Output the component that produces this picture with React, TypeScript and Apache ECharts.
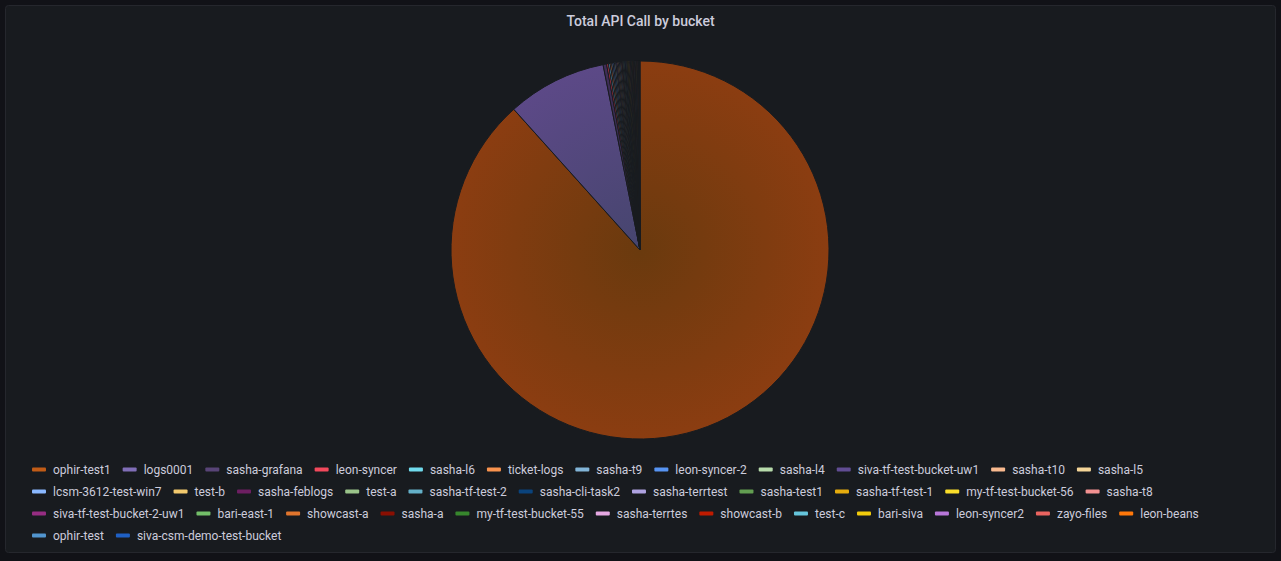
import React, { useEffect, useRef } from "react";
import * as echarts from "echarts";

const titleText = "Total API Call by bucket";

const buckets = [
  "ophir-test1", "logs0001", "sasha-grafana", "leon-syncer", "sasha-l6", "ticket-logs", "sasha-t9",
  "leon-syncer-2", "sasha-l4", "siva-tf-test-bucket-uw1", "sasha-t10", "sasha-l5",
  "lcsm-3612-test-win7", "test-b", "sasha-feblogs", "test-a", "sasha-tf-test-2", "sasha-cli-task2",
  "sasha-terrtest", "sasha-test1", "sasha-tf-test-1", "my-tf-test-bucket-56", "sasha-t8",
  "siva-tf-test-bucket-2-uw1", "bari-east-1", "showcast-a", "sasha-a", "my-tf-test-bucket-55",
  "sasha-terrtes", "showcast-b", "test-c", "bari-siva", "leon-syncer2", "zayo-files", "leon-beans",
  "ophir-test", "siva-csm-demo-test-bucket",
];

const apiCalls = [
  8830, 850, 30, 16, 14, 13, 12,
  12, 11, 11, 10, 10,
  10, 9, 9, 9, 9, 8,
  8, 8, 8, 8, 7,
  7, 7, 7, 7, 6,
  6, 6, 6, 6, 5, 5, 5,
  4, 4,
];

const colors = [
  "#C15C17", "#806EB7", "#584477", "#F2495C", "#70DBED", "#F9934E", "#82B5D8",
  "#5794F2", "#B7DBAB", "#614D93", "#F9BA8F", "#F4D598",
  "#8AB8FF", "#F2C96D", "#6D1F62", "#9AC48A", "#64B0C8", "#0A437C",
  "#AEA2E0", "#629E51", "#E5AC0E", "#FADE2A", "#F29191",
  "#962D82", "#73BF69", "#E0752D", "#890F02", "#37872D",
  "#E5A8E2", "#BF1B00", "#65C5DB", "#F2CC0C", "#B877D9", "#EA6460", "#FF780A",
  "#5195CE", "#1F60C4",
];

function scale(hex: string, f: number[]) {
  const n = parseInt(hex.slice(1), 16);
  const r = Math.min(255, Math.round(((n >> 16) & 255) * f[0]));
  const g = Math.min(255, Math.round(((n >> 8) & 255) * f[1]));
  const b = Math.min(255, Math.round((n & 255) * f[2]));
  return `rgb(${r},${g},${b})`;
}

export default function App() {
  const ref = useRef<HTMLDivElement>(null);
  useEffect(() => {
    if (!ref.current) return;
    const chart = echarts.init(ref.current, undefined, { renderer: "svg" });
    const cx = 640;
    const cy = 250;
    const R = 189;
    const data = buckets.map((name, i) => ({
      name,
      value: apiCalls[i],
      itemStyle: {
        color: {
          type: "radial",
          x: cx,
          y: cy,
          r: R,
          global: true,
          colorStops: [
            { offset: 0, color: scale(colors[i], [0.55, 0.63, 0.6]) },
            { offset: 1, color: scale(colors[i], [0.72, 0.66, 0.74]) },
          ],
        },
      },
    }));
    chart.setOption({
      animation: false,
      backgroundColor: "#111217",
      graphic: [
        {
          type: "rect",
          z: -10,
          silent: true,
          shape: { x: 5.5, y: 5.5, width: 1270, height: 547, r: 3 },
          style: { fill: "#181b1f", stroke: "#25272d", lineWidth: 1 },
        },
      ],
      title: {
        text: titleText,
        left: "center",
        top: 9,
        textStyle: {
          color: "#ccccdc",
          fontSize: 14,
          fontWeight: 500,
          fontFamily: "Roboto, Inter, sans-serif",
        },
      },
      legend: {
        type: "plain",
        orient: "horizontal",
        left: 27,
        top: 458,
        width: 1232,
        icon: "roundRect",
        itemWidth: 14,
        itemHeight: 4,
        itemGap: 9,
        itemStyle: { borderWidth: 0 },
        textStyle: {
          color: "#ccccdc",
          fontSize: 12,
          fontFamily: "Roboto, Inter, sans-serif",
          lineHeight: 13,
          padding: [0, 3, 0, 2],
        },
        data: buckets.map((name, i) => ({ name, itemStyle: { color: colors[i], borderWidth: 0 } })),
      },
      series: [
        {
          type: "pie",
          center: [cx, cy],
          radius: [0, R],
          startAngle: 90,
          clockwise: true,
          minAngle: 0,
          avoidLabelOverlap: false,
          label: { show: false },
          labelLine: { show: false },
          emphasis: { disabled: true },
          itemStyle: { borderColor: "#181b1f", borderWidth: 1 },
          data,
        },
      ],
    });
    return () => chart.dispose();
  }, []);
  return (
    <div style={{ position: "fixed", left: 0, top: 0, width: 1281, height: 561, background: "#111217" }}>
      <div ref={ref} style={{ width: 1281, height: 561 }} />
    </div>
  );
}
